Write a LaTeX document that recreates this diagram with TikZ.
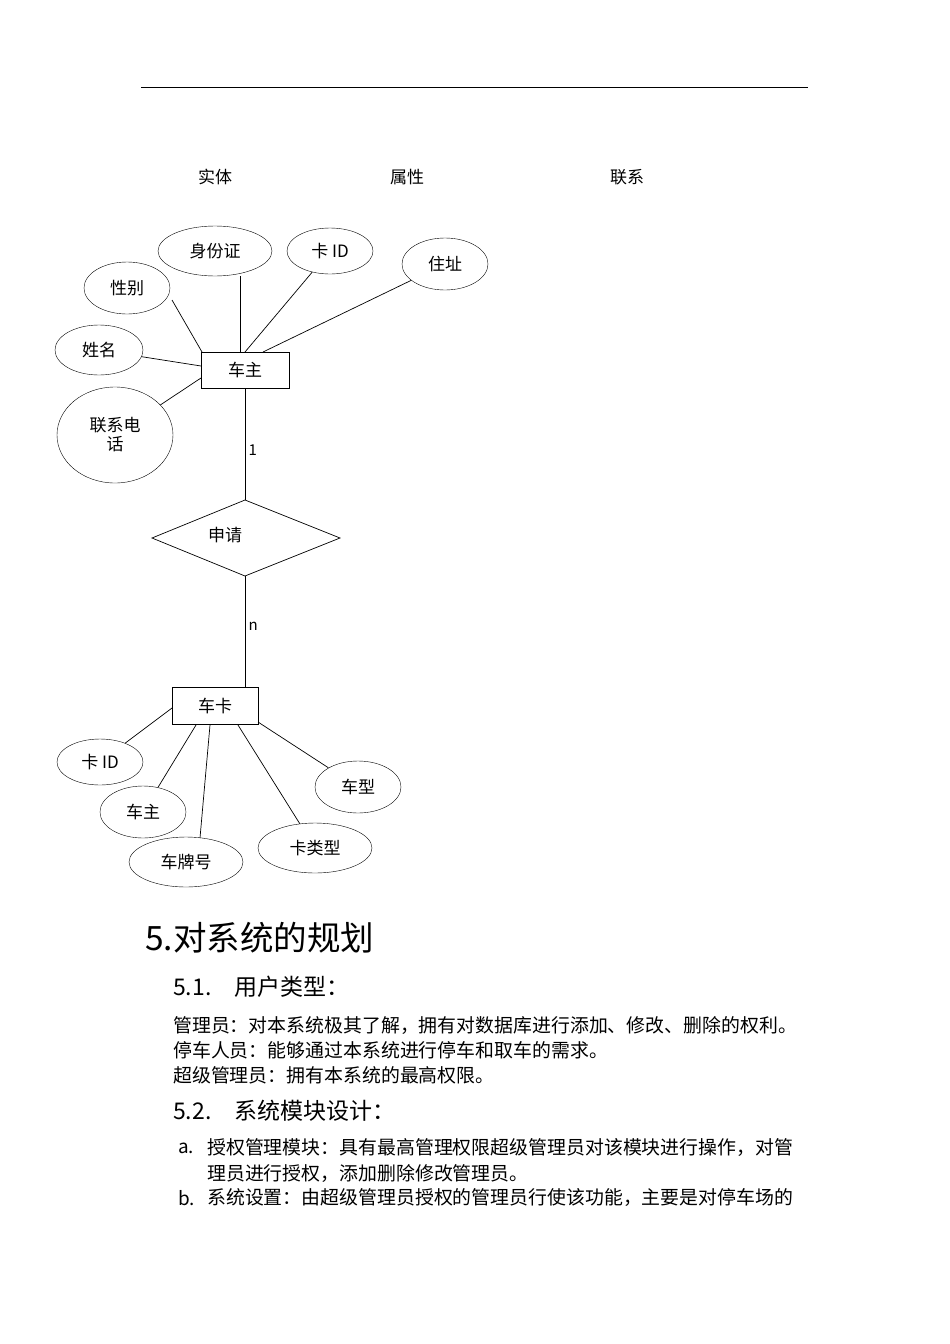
\documentclass[tikz,border=0pt]{standalone}
\usepackage{fontspec}
\setmainfont{Noto Sans CJK SC}
\usetikzlibrary{shapes.geometric}
\begin{document}
\begin{tikzpicture}[x=1pt,y=-1pt,
  every node/.style={font=\fontsize{17}{19}\selectfont},
  attr/.style={draw,ellipse,inner sep=0pt},
  ent/.style={draw,rectangle,minimum width=88pt,minimum height=36pt,inner sep=0pt},
  ln/.style={draw,line width=0.7pt},
  txt/.style={anchor=west,inner sep=0pt},
  body/.style={txt,font=\fontsize{18.9}{20}\selectfont}]
\useasboundingbox (0,0) rectangle (950,1344);
\draw[line width=0.7pt] (141,87) coordinate (tl) -- (808,87) coordinate (tr);
\node (h1) at (215,177) {实体};
\node (h2) at (407,177) {属性};
\node (h3) at (627,177) {联系};
% owner
\node[ent] (cz) at (245,370) {车主};
\node[attr,minimum width=114pt,minimum height=50pt] (sfz) at (215,251) {身份证};
\node[attr,minimum width=86pt,minimum height=46pt] (kid) at (330,251) {卡 ID};
\node[attr,minimum width=86pt,minimum height=52pt] (zz) at (445,264) {住址};
\node[attr,minimum width=86pt,minimum height=52pt] (xb) at (127,288) {性别};
\node[attr,minimum width=88pt,minimum height=50pt] (xm) at (99,350) {姓名};
\node[attr,minimum width=116pt,minimum height=96pt,align=center] (lx) at (115,435) {联系电\\话};
\draw[ln] (172,300) -- (202,352);
\draw[ln] (240,276) -- (240,352);
\draw[ln] (kid) -- (245,352);
\draw[ln] (zz) -- (263,352);
\draw[ln] (xm) -- (201,366);
\draw[ln] (lx) -- (201,378);
% relation
\path[ln] (152,538) coordinate (dl) -- (245,500) coordinate (dt) -- (340,538) coordinate (dr) -- (245,576) coordinate (db) -- cycle;
\node (sqt) at (225,535) {申请};
\draw[ln] (cz.south) -- (dt) node[pos=0.55,right,font=\fontsize{15}{17}\selectfont] {1};
\node[ent,minimum width=86pt,minimum height=37pt] (ck) at (215,706) {车卡};
\draw[ln] (db) -- (ck.north -| db) node[pos=0.45,right,font=\fontsize{15}{17}\selectfont] {n};
\node[attr,minimum width=86pt,minimum height=46pt] (kid2) at (100,762) {卡 ID};
\node[attr,minimum width=86pt,minimum height=52pt] (cz2) at (143,812) {车主};
\node[attr,minimum width=114pt,minimum height=50pt] (cph) at (186,862) {车牌号};
\node[attr,minimum width=114pt,minimum height=50pt] (klx) at (315,848) {卡类型};
\node[attr,minimum width=86pt,minimum height=52pt] (cx) at (358,787) {车型};
\draw[ln] (172,708) -- (kid2);
\draw[ln] (196,725) -- (cz2);
\draw[ln] (210,725) -- (200,838);
\draw[ln] (238,725) -- (klx);
\draw[ln] (258,722) -- (cx);
% text
\node[txt,font=\fontsize{33.5}{36}\selectfont] (t5) at (145,938) {5.对系统的规划};
\node[txt,font=\fontsize{23}{26}\selectfont] (t51) at (173,987) {5.1.\quad 用户类型：};
\node[body] (p1) at (173,1025) {管理员：对本系统极其了解，拥有对数据库进行添加、修改、删除的权利。};
\node[body] (p2) at (173,1050) {停车人员：能够通过本系统进行停车和取车的需求。};
\node[body] (p3) at (173,1075) {超级管理员：拥有本系统的最高权限。};
\node[txt,font=\fontsize{23}{26}\selectfont] (t52) at (173,1111) {5.2.\quad 系统模块设计：};
\node[body] (a) at (178,1148) {a.};
\node[body] (a1) at (207,1148) {授权管理模块：具有最高管理权限超级管理员对该模块进行操作，对管};
\node[body] (a2) at (207,1173) {理员进行授权，添加删除修改管理员。};
\node[body] (b) at (178,1198) {b.};
\node[body] (b1) at (207,1198) {系统设置：由超级管理员授权的管理员行使该功能，主要是对停车场的};
\end{tikzpicture}
\end{document}
